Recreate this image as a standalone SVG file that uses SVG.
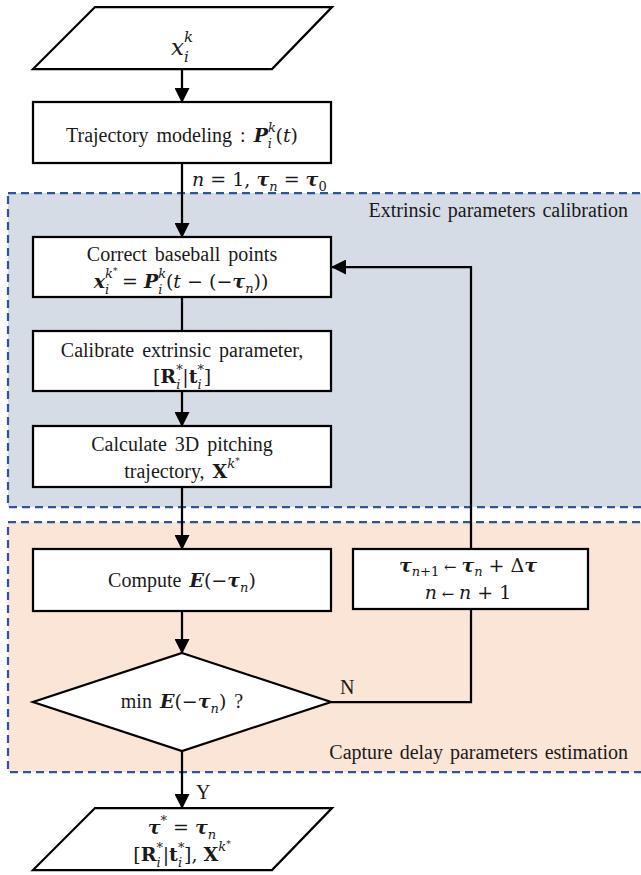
<svg xmlns="http://www.w3.org/2000/svg" width="641" height="875" viewBox="0 0 641 875">
  <style>
    .region { stroke: #2f5597; stroke-width: 2.25; stroke-dasharray: 8 5; }
    .node { fill: #ffffff; stroke: #000000; stroke-width: 2.25; stroke-linejoin: miter; }
    .wire { fill: none; stroke: #000000; stroke-width: 2.25; }
    .t { font-family: "Liberation Serif", "Times New Roman", serif; font-size: 20px; fill: #1a1a1a; word-spacing: 3px; }
    .lbl { font-family: "Liberation Serif", "Times New Roman", serif; font-size: 20px; fill: #1a1a1a; word-spacing: 2px; }
    .m { font-family: "DejaVu Serif", serif; font-size: 19px; word-spacing: 0; }
    .i { font-style: italic; }
    .b { font-weight: bold; }
    .s { font-size: 13px; }
    .ss { font-size: 9px; }
    .ar { font-size: 15px; }
  </style>
  <defs>
    <marker id="arrow" viewBox="0 0 15 15" markerWidth="15" markerHeight="15" refX="14" refY="7.5" orient="auto" markerUnits="userSpaceOnUse">
      <path d="M0,0 L15,7.5 L0,15 Z" fill="#000000"/>
    </marker>
  </defs>

  <!-- shaded stages -->
  <g id="stage-extrinsic">
    <rect class="region" x="8" y="193" width="660" height="314" fill="#d6dce5"/>
    <text class="lbl" x="628" y="217" text-anchor="end">Extrinsic parameters calibration</text>
  </g>
  <g id="stage-delay">
    <rect class="region" x="8" y="522" width="660" height="250" fill="#fbe5d6"/>
    <text class="lbl" x="628" y="759" text-anchor="end">Capture delay parameters estimation</text>
  </g>

  <!-- connectors -->
  <g id="connectors">
    <line class="wire" x1="182" y1="69" x2="182" y2="102" marker-end="url(#arrow)"/>
    <line class="wire" x1="182" y1="163" x2="182" y2="237" marker-end="url(#arrow)"/>
    <line class="wire" x1="182" y1="297" x2="182" y2="331"/>
    <line class="wire" x1="182" y1="391" x2="182" y2="426" marker-end="url(#arrow)"/>
    <line class="wire" x1="182" y1="487" x2="182" y2="549" marker-end="url(#arrow)"/>
    <line class="wire" x1="182" y1="611" x2="182" y2="653" marker-end="url(#arrow)"/>
    <line class="wire" x1="182" y1="751" x2="182" y2="808" marker-end="url(#arrow)"/>
    <polyline class="wire" points="331,702 471,702 471,609"/>
    <polyline class="wire" points="471,549 471,267 332,267" marker-end="url(#arrow)"/>
    <text class="t" x="192" y="186"><tspan class="m i">n</tspan><tspan class="m"> = 1, </tspan><tspan class="m b i">τ</tspan><tspan class="m i s" dy="5">n</tspan><tspan class="m" dy="-5"> = </tspan><tspan class="m b i">τ</tspan><tspan class="m s" dy="5">0</tspan></text>
    <text class="t" x="340" y="694">N</text>
    <text class="t" x="196" y="799">Y</text>
  </g>

  <!-- input -->
  <g id="input">
    <polygon class="node" points="95,7 332,7 272,69 33,69"/>
    <text class="t" x="182" y="55" text-anchor="middle"><tspan class="m i" style="font-size:23px">x</tspan><tspan class="m i" style="font-size:15px" dy="-13">k</tspan><tspan class="m i" style="font-size:15px" dx="-9" dy="20">i</tspan></text>
  </g>

  <g id="trajectory-model">
    <rect class="node" x="33" y="102" width="298" height="61"/>
    <text class="t" x="182" y="142" text-anchor="middle">Trajectory  modeling : <tspan class="m b i">P</tspan><tspan class="m i s" dy="-10">k</tspan><tspan class="m i s" dx="-8" dy="16">i</tspan><tspan class="m" dx="3.5" dy="-6">(</tspan><tspan class="m i">t</tspan><tspan class="m">)</tspan></text>
  </g>

  <g id="correct-points">
    <rect class="node" x="33" y="237" width="298" height="60"/>
    <text class="t" x="182" y="261" text-anchor="middle">Correct baseball points</text>
    <text class="t" x="181" y="288" text-anchor="middle"><tspan class="m b i">x</tspan><tspan class="m i s" dy="-10">k</tspan><tspan class="m ss" dy="-4">*</tspan><tspan class="m i s" dx="-12.5" dy="20">i</tspan><tspan class="m" dx="7" dy="-6"> = </tspan><tspan class="m b i">P</tspan><tspan class="m i s" dy="-10">k</tspan><tspan class="m i s" dx="-8" dy="16">i</tspan><tspan class="m" dx="3.5" dy="-6">(</tspan><tspan class="m i">t</tspan><tspan class="m"> − (−</tspan><tspan class="m b i">τ</tspan><tspan class="m i s" dy="5">n</tspan><tspan class="m" dy="-5">))</tspan></text>
  </g>

  <g id="calibrate-extrinsic">
    <rect class="node" x="33" y="331" width="298" height="60"/>
    <text class="t" x="182" y="357" text-anchor="middle">Calibrate extrinsic parameter,</text>
    <text class="t" x="182" y="383" text-anchor="middle"><tspan class="m">[</tspan><tspan class="m b">R</tspan><tspan class="m s" dy="-9">*</tspan><tspan class="m i s" dx="-6.5" dy="15">i</tspan><tspan class="m" dx="2" dy="-6">|</tspan><tspan class="m b">t</tspan><tspan class="m s" dy="-9">*</tspan><tspan class="m i s" dx="-6.5" dy="15">i</tspan><tspan class="m" dx="2" dy="-6">]</tspan></text>
  </g>

  <g id="triangulate">
    <rect class="node" x="33" y="426" width="298" height="61"/>
    <text class="t" x="182" y="451" text-anchor="middle">Calculate  3D pitching</text>
    <text class="t" x="182" y="478" text-anchor="middle">trajectory, <tspan class="m b">X</tspan><tspan class="m i s" dy="-10">k</tspan><tspan class="m ss" dy="-4">*</tspan></text>
  </g>

  <g id="compute-error">
    <rect class="node" x="33" y="549" width="298" height="62"/>
    <text class="t" x="182" y="587" text-anchor="middle">Compute <tspan class="m b i">E</tspan><tspan class="m">(−</tspan><tspan class="m b i">τ</tspan><tspan class="m i s" dy="5">n</tspan><tspan class="m" dy="-5">)</tspan></text>
  </g>

  <g id="update-delay">
    <rect class="node" x="353" y="549" width="235" height="60"/>
    <text class="t" x="468" y="572" text-anchor="middle"><tspan class="m b i">τ</tspan><tspan class="m i s" dy="4">n</tspan><tspan class="m s">+1</tspan><tspan class="m ar" dy="-4"> ← </tspan><tspan class="m b i">τ</tspan><tspan class="m i s" dy="4">n</tspan><tspan class="m" dy="-4"> + Δ</tspan><tspan class="m b i">τ</tspan></text>
    <text class="t" x="468" y="599" text-anchor="middle"><tspan class="m i">n</tspan><tspan class="m ar"> ← </tspan><tspan class="m i">n</tspan><tspan class="m"> + 1</tspan></text>
  </g>

  <g id="minimum-check">
    <polygon class="node" points="182,653 331,702 182,751 33,702"/>
    <text class="t" x="182" y="708" text-anchor="middle">min <tspan class="m b i">E</tspan><tspan class="m">(−</tspan><tspan class="m b i">τ</tspan><tspan class="m i s" dy="5">n</tspan><tspan class="m" dy="-5">)</tspan> ?</text>
  </g>

  <g id="output">
    <polygon class="node" points="95,808 332,808 272,870 33,870"/>
    <text class="t" x="182" y="834" text-anchor="middle"><tspan class="m b i">τ</tspan><tspan class="m s" dy="-9">*</tspan><tspan class="m" dy="9">  = </tspan><tspan class="m b i">τ</tspan><tspan class="m i s" dy="5">n</tspan></text>
    <text class="t" x="182" y="861" text-anchor="middle"><tspan class="m">[</tspan><tspan class="m b">R</tspan><tspan class="m s" dy="-9">*</tspan><tspan class="m i s" dx="-6.5" dy="15">i</tspan><tspan class="m" dx="2" dy="-6">|</tspan><tspan class="m b">t</tspan><tspan class="m s" dy="-9">*</tspan><tspan class="m i s" dx="-6.5" dy="15">i</tspan><tspan class="m" dx="2" dy="-6">], </tspan><tspan class="m b">X</tspan><tspan class="m i s" dy="-10">k</tspan><tspan class="m ss" dy="-4">*</tspan></text>
  </g>
</svg>
